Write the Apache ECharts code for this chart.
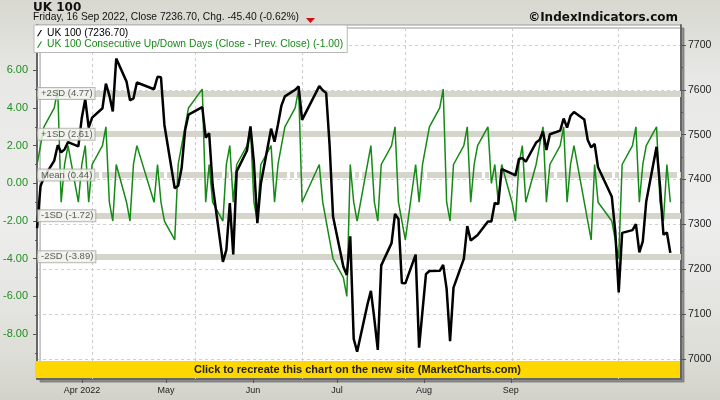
<!DOCTYPE html>
<html>
<head>
<meta charset="utf-8">
<script src="https://cdn.jsdelivr.net/npm/echarts@6/dist/echarts.min.js"></script>
<style>
html,body{margin:0;padding:0;}
#chart{width:720px;height:400px;}
</style>
</head>
<body>
<div id="chart"></div>
<script>
// ---------- data ----------
const dates = [
'2022-03-16','2022-03-17','2022-03-18','2022-03-21','2022-03-22','2022-03-23','2022-03-24','2022-03-25','2022-03-28','2022-03-29','2022-03-30','2022-03-31',
'2022-04-01','2022-04-04','2022-04-05','2022-04-06','2022-04-07','2022-04-08','2022-04-11','2022-04-12','2022-04-13','2022-04-14','2022-04-19','2022-04-20','2022-04-21','2022-04-22','2022-04-25','2022-04-26','2022-04-27','2022-04-28','2022-04-29',
'2022-05-03','2022-05-04','2022-05-05','2022-05-06','2022-05-09','2022-05-10','2022-05-11','2022-05-12','2022-05-13','2022-05-16','2022-05-17','2022-05-18','2022-05-19','2022-05-20','2022-05-23','2022-05-24','2022-05-25','2022-05-26','2022-05-27','2022-05-30','2022-05-31',
'2022-06-01','2022-06-06','2022-06-07','2022-06-08','2022-06-09','2022-06-10','2022-06-13','2022-06-14','2022-06-15','2022-06-16','2022-06-17','2022-06-20','2022-06-21','2022-06-22','2022-06-23','2022-06-24','2022-06-27','2022-06-28','2022-06-29','2022-06-30',
'2022-07-01','2022-07-04','2022-07-05','2022-07-06','2022-07-07','2022-07-08','2022-07-11','2022-07-12','2022-07-13','2022-07-14','2022-07-15','2022-07-18','2022-07-19','2022-07-20','2022-07-21','2022-07-22','2022-07-25','2022-07-26','2022-07-27','2022-07-28','2022-07-29',
'2022-08-01','2022-08-02','2022-08-03','2022-08-04','2022-08-05','2022-08-08','2022-08-09','2022-08-10','2022-08-11','2022-08-12','2022-08-15','2022-08-16','2022-08-17','2022-08-18','2022-08-19','2022-08-22','2022-08-23','2022-08-24','2022-08-25','2022-08-26','2022-08-30','2022-08-31',
'2022-09-01','2022-09-02','2022-09-05','2022-09-06','2022-09-07','2022-09-08','2022-09-09','2022-09-12','2022-09-13','2022-09-14','2022-09-15','2022-09-16'
];
const ukClose = [
7291.7,7385.3,7404.7,7442.4,7476.7,7460.6,7467.4,7483.4,7474.0,7537.9,7578.8,7515.7,
7537.9,7558.9,7613.7,7587.7,7551.8,7669.6,7618.3,7576.7,7580.8,7616.4,7601.3,7629.2,7628.0,7521.7,7380.5,7386.2,7425.6,7509.2,7544.6,
7561.3,7493.5,7503.3,7387.9,7216.6,7243.2,7347.7,7233.3,7418.2,7464.8,7518.4,7438.1,7302.7,7390.0,7513.4,7484.4,7522.8,7564.9,7585.5,7600.1,7607.7,
7533.0,7608.2,7598.9,7593.0,7476.2,7317.5,7205.8,7187.5,7273.4,7045.0,7016.3,7121.8,7152.1,7089.2,7020.5,7208.8,7258.3,7323.4,7312.3,7169.3,
7168.7,7232.7,7025.5,7107.8,7189.1,7196.2,7196.6,7209.9,7156.4,7039.8,7159.0,7223.2,7296.3,7264.3,7270.5,7276.4,7306.3,7306.3,7348.2,7345.3,7423.4,
7413.4,7409.1,7445.7,7448.1,7439.7,7482.4,7488.2,7507.1,7465.9,7500.9,7509.2,7536.1,7515.8,7541.9,7550.4,7533.8,7488.1,7471.5,7479.7,7427.3,7361.6,7284.2,
7148.5,7281.2,7287.4,7300.4,7237.8,7262.1,7351.1,7473.0,7385.9,7277.3,7282.1,7236.7
];
const upDownDays = [
1,2,3,4,5,-1,1,2,-1,1,2,-1,
1,2,3,-1,-2,1,-1,-2,1,2,-1,1,-1,-2,-3,1,2,3,4,
5,-1,1,-1,-2,1,2,-1,1,2,3,-1,-2,1,2,-1,1,2,3,4,5,
-1,1,-1,-2,-3,-4,-5,-6,1,-1,-2,1,2,-1,-2,1,2,3,-1,-2,
-3,1,-1,1,2,3,4,5,-1,-2,1,2,3,-1,1,2,3,0,1,-1,1,
-1,-2,1,2,-1,1,2,3,-1,1,2,3,-1,1,2,-1,-2,-3,1,-1,-2,-3,
-4,1,2,3,-1,1,2,3,-1,-2,1,-1
];
const bandValues = [4.77, 2.61, 0.44, -1.72, -3.89];
const bandLabels = ['+2SD (4.77)', '+1SD (2.61)', 'Mean (0.44)', '-1SD (-1.72)', '-2SD (-3.89)'];
const leftTicks = [-8, -6, -4, -2, 0, 2, 4, 6];
const rightTicks = [7000, 7100, 7200, 7300, 7400, 7500, 7600, 7700];
const monthStarts = ['2022-04-01','2022-05-01','2022-06-01','2022-07-01','2022-08-01','2022-09-01'];
const monthLabels = ['Apr 2022','May','Jun','Jul','Aug','Sep'];
const nameClose = 'UK 100 (7236.70)';
const nameUpDown = 'UK 100 Consecutive Up/Down Days (Close - Prev. Close) (-1.00)';

// ---------- helpers ----------
const DAY = 86400000;
const T = s => { const p = s.split('-').map(Number); return new Date(p[0], p[1]-1, p[2]).getTime(); };
const monthTimes = monthStarts.map(T);
const xMin = T('2022-03-16'), xMax = xMin + 187.1 * DAY;
const lblMin = T('2022-03-16'), lblMax = T('2022-10-31') + 0.7 * DAY;
const FONT = '"Liberation Sans", Arial, sans-serif';
const GREEN = '#168a16';

const chart = echarts.init(document.getElementById('chart'), null, {renderer: 'canvas'});
const option = {
  animation: false,
  backgroundColor: {
    type: 'linear', x: 0, y: 0, x2: 0, y2: 1,
    colorStops: [
      {offset: 0, color: '#d8d8d0'},
      {offset: 0.2, color: '#e8e8e6'},
      {offset: 0.55, color: '#eeeeee'},
      {offset: 0.88, color: '#deded8'},
      {offset: 1, color: '#d2d2ca'}
    ]
  },
  textStyle: {fontFamily: FONT},
  grid: {
    left: 34, right: 39, top: 25, bottom: 21, show: true,
    backgroundColor: '#ffffff', borderColor: '#999', borderWidth: 1,
    shadowColor: 'rgba(110,110,110,0.7)', shadowOffsetX: 3, shadowOffsetY: 3, shadowBlur: 0
  },
  legend: {
    left: 34, top: 25, orient: 'vertical', z: 20,
    backgroundColor: '#ffffff', borderColor: '#b8b8b8', borderWidth: 1,
    padding: [3, 4, 3, 3], itemGap: 1.5, itemWidth: 5, itemHeight: 8,
    icon: 'path://M6,0 L8,0 L2,10 L0,10 Z', selectedMode: false,
    textStyle: {fontSize: 10.3, lineHeight: 10, fontFamily: FONT},
    data: [
      {name: nameClose, textStyle: {color: '#000'}},
      {name: nameUpDown, textStyle: {color: GREEN}}
    ]
  },
  xAxis: [
    {
      type: 'value', min: xMin, max: xMax, position: 'bottom',
      axisLine: {show: true, onZero: false, lineStyle: {color: '#666', width: 2}},
      axisTick: {show: false}, axisLabel: {show: false}, splitLine: {show: false}
    },
    {
      type: 'value', min: lblMin, max: lblMax, position: 'bottom',
      axisLine: {show: false, onZero: false},
      axisTick: {show: true, customValues: monthTimes, length: 4, lineStyle: {color: '#555'}},
      axisLabel: {
        show: true, customValues: monthTimes, fontSize: 9, color: '#222', margin: 7,
        formatter: (v, i) => { let k = monthTimes.indexOf(v); if (k < 0) k = i; return monthLabels[k] || ''; }
      },
      splitLine: {show: false}
    }
  ],
  yAxis: [
    {
      type: 'value', position: 'left', min: -10.38, max: 8.40, splitNumber: 9,
      axisLine: {show: true, onZero: false, lineStyle: {color: '#666', width: 2}},
      axisTick: {show: true, customValues: leftTicks, length: 4, lineStyle: {color: '#555'}},
      minorTick: {show: true, splitNumber: 2, length: 2, lineStyle: {color: '#555'}},
      axisLabel: {customValues: leftTicks, color: '#1f8f1f', fontSize: 11, margin: 9, formatter: v => v.toFixed(2)},
      splitLine: {show: false}
    },
    {
      type: 'value', position: 'right', min: 6955.5, max: 7744.5, splitNumber: 8,
      axisLine: {show: true, onZero: false, lineStyle: {color: '#666', width: 2}},
      axisTick: {show: true, customValues: rightTicks, length: 5, lineStyle: {color: '#555'}},
      minorTick: {show: true, splitNumber: 2, length: 2, lineStyle: {color: '#555'}},
      axisLabel: {customValues: rightTicks, color: '#222', fontSize: 10.5, margin: 7, formatter: v => String(Math.round(v))},
      splitLine: {show: true, lineStyle: {color: '#cfcfcf', type: [3, 3], width: 1}}
    }
  ],
  series: [
    {
      name: 'bands', type: 'line', xAxisIndex: 0, yAxisIndex: 0, silent: true, z: 1,
      data: dates.map((d, i) => [T(d), upDownDays[i]]),
      symbol: 'none', lineStyle: {opacity: 0},
      markLine: {
        silent: true, symbol: 'none', animation: false, label: {show: false}, z: 1,
        data: monthTimes.map(t => ({xAxis: t, lineStyle: {color: '#cccccc', type: [3, 3], width: 1}}))
          .concat(bandValues.map((v, i) => ({
            yAxis: v,
            lineStyle: {color: '#d5d5cb', width: 6, type: i === 2 ? [55, 3, 4, 3] : 'solid'}
          })))
      }
    },
    {
      name: 'bandLabels', type: 'scatter', xAxisIndex: 0, yAxisIndex: 0, z: 10, silent: true,
      symbolSize: 0, clip: false,
      data: bandValues.map(v => [xMin, v]),
      label: {
        show: true, position: 'right', distance: 1,
        formatter: p => bandLabels[p.dataIndex],
        fontSize: 9.5, color: '#333', fontFamily: FONT,
        backgroundColor: '#f6f6f2', borderColor: '#a8a8a0', borderWidth: 1,
        padding: [1, 2, 0, 3], lineHeight: 10
      }
    },
    {
      name: nameUpDown, type: 'line', xAxisIndex: 0, yAxisIndex: 0, z: 3,
      data: dates.map((d, i) => [T(d), upDownDays[i]]),
      symbol: 'none', color: GREEN, lineStyle: {color: GREEN, width: 1.5}
    },
    {
      name: nameClose, type: 'line', xAxisIndex: 0, yAxisIndex: 1, z: 4,
      data: dates.map((d, i) => [T(d), ukClose[i]]),
      symbol: 'none', color: '#000', lineStyle: {color: '#000', width: 2.5}
    }
  ],
  graphic: [
    {type: 'text', x: 33, y: 7.5, z: 30, style: {text: 'UK 100', font: 'bold 12px "DejaVu Sans", sans-serif', fill: '#111', verticalAlign: 'middle', align: 'left'}},
    {type: 'text', x: 33, y: 17.5, z: 30, style: {text: 'Friday, 16 Sep 2022, Close 7236.70, Chg. -45.40 (-0.62%)', font: '10.3px ' + FONT, fill: '#111', verticalAlign: 'middle', align: 'left'}},
    {type: 'polygon', z: 30, shape: {points: [[306, 18], [315, 18], [310.5, 23]]}, style: {fill: '#cc1111'}},
    {type: 'text', x: 678, y: 18, z: 30, style: {text: '©IndexIndicators.com', font: 'bold 12px "DejaVu Sans", sans-serif', fill: '#111', verticalAlign: 'middle', align: 'right'}},
    {type: 'rect', z: 50, shape: {x: 35, y: 361, width: 645, height: 17}, style: {fill: '#ffd700'}},
    {type: 'text', z: 51, x: 357.5, y: 370, style: {text: 'Click to recreate this chart on the new site (MarketCharts.com)', font: 'bold 11px ' + FONT, fill: '#222', align: 'center', verticalAlign: 'middle'}}
  ]
};
chart.setOption(option);
</script>
</body>
</html>
